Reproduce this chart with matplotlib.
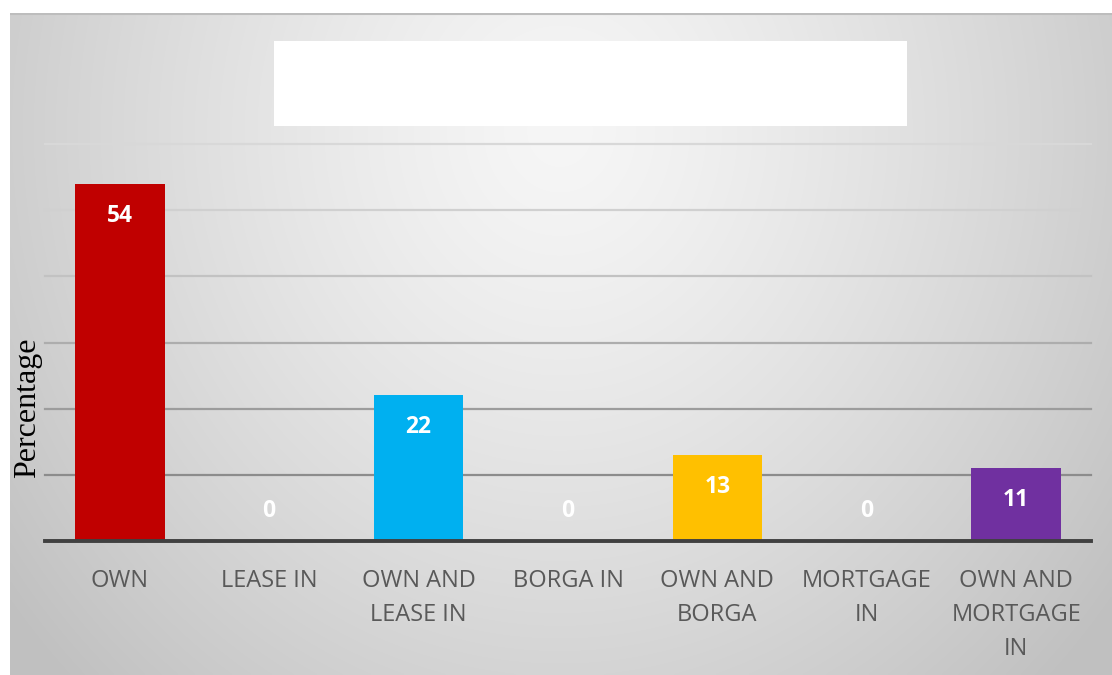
import numpy as np
import matplotlib
matplotlib.use("Agg")
import matplotlib.pyplot as plt
from matplotlib.patches import Rectangle

# Land tenure categories and their shares (%)
categories = ["OWN", "LEASE IN", "OWN AND\nLEASE IN", "BORGA IN",
              "OWN AND\nBORGA", "MORTGAGE\nIN", "OWN AND\nMORTGAGE\nIN"]
values = [54, 0, 22, 0, 13, 0, 11]
bar_colors = ["#C00000", "#00B0F0", "#00B0F0", "#FFC000",
              "#FFC000", "#7030A0", "#7030A0"]
grid_levels = [10, 20, 30, 40, 50, 60]
grid_colors = ["#8c8c8c", "#9c9c9c", "#adadad", "#c2c2c2", "#d0d0d0", "#d8d8d8"]

W, H = 1112, 675
fig = plt.figure(figsize=(W / 100, H / 100), dpi=100)
fig.patch.set_facecolor("white")

# Soft radial grey backdrop for the chart panel
bg = fig.add_axes([10 / W, 0, (W - 10) / W, (H - 13) / H], zorder=0)
px_x = np.linspace(10, W, 400)
px_y = np.linspace(13, H, 260)
gx, gy = np.meshgrid(px_x, px_y)
r = np.sqrt(((gx - 560) / 560) ** 2 + ((gy - 130) / 620) ** 2)
shade = 246 - 40 * np.clip(r, 0, 1.25) ** 1.3
shade = np.clip(shade, 190, 247) / 255.0
img = np.dstack([shade, shade, shade])
bg.imshow(img, aspect="auto", extent=[0, 1, 0, 1], origin="upper",
          interpolation="bilinear")
bg.plot([0, 1], [0.998, 0.998], color="#bdbdbd", lw=1.5,
        transform=bg.transAxes)
bg.set_axis_off()

# Main plotting axes
ax = fig.add_axes([45 / W, 1 - 541 / H, (1091 - 45) / W, (541 - 144) / H],
                  zorder=2)
ax.patch.set_alpha(0)
x = np.arange(len(categories))
ax.set_xlim(-0.5, len(categories) - 0.5)
ax.set_ylim(0, 60)

for lvl, c in zip(grid_levels, grid_colors):
    ax.axhline(lvl, color=c, lw=1.6, zorder=1, clip_on=False)

ax.bar(x, values, width=0.6, color=bar_colors, zorder=3)
ax.axhline(0, color="#404040", lw=2.8, zorder=4, clip_on=False)

for xi, v in zip(x, values):
    off = -23 if v > 0 else 21.5
    ax.annotate(f"{v}", (xi, v), xytext=(0, off), textcoords="offset points",
                ha="center", va="center", color="white", fontsize=16.5,
                fontweight="bold", family="Open Sans", zorder=5)

ax.set_xticks(x)
ax.set_xticklabels(categories, fontsize=17, color="#595959",
                   family="Open Sans", linespacing=1.57)
ax.tick_params(axis="x", length=0, pad=20)
ax.set_yticks([])
for s in ax.spines.values():
    s.set_visible(False)

fig.text(28 / W, 1 - 408 / H, "Percentage", rotation=90, ha="center",
         va="center", fontsize=23, family="Liberation Serif", color="black",
         zorder=5)

# Blank title box
fig.patches.append(Rectangle((274 / W, 1 - 126 / H), (907 - 274) / W,
                             (126 - 41) / H, transform=fig.transFigure,
                             facecolor="white", edgecolor="none", zorder=3))

fig.savefig("out.png", dpi=100)
